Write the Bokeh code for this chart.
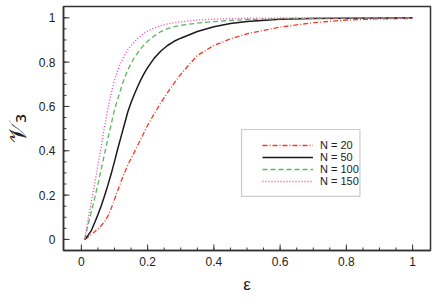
from bokeh.plotting import figure
from bokeh.models import (Range1d, FixedTicker, Legend, LegendItem, BoxAnnotation,
                          Arrow, ColumnDataSource)
from bokeh.embed import file_html
from bokeh.resources import INLINE

# ---- data ----
eps = [0.01, 0.02, 0.03, 0.04, 0.05, 0.06, 0.07, 0.08, 0.09, 0.10, 0.11, 0.12,
       0.13, 0.14, 0.15, 0.16, 0.17, 0.18, 0.19, 0.20, 0.22, 0.24, 0.26, 0.28,
       0.30, 0.35, 0.40, 0.45, 0.50, 0.60, 0.70, 0.80, 0.90, 1.00]

v_n20 = [0.0, 0.010, 0.022, 0.035, 0.048, 0.063, 0.080, 0.105, 0.140, 0.180,
         0.222, 0.262, 0.300, 0.335, 0.365, 0.394, 0.425, 0.455, 0.485, 0.515,
         0.567, 0.617, 0.662, 0.705, 0.745, 0.830, 0.875, 0.905, 0.928, 0.958,
         0.978, 0.990, 0.995, 0.997]
v_n50 = [0.0, 0.018, 0.040, 0.075, 0.112, 0.152, 0.197, 0.245, 0.296, 0.352,
         0.410, 0.465, 0.520, 0.575, 0.618, 0.655, 0.690, 0.722, 0.750, 0.775,
         0.818, 0.850, 0.875, 0.894, 0.908, 0.938, 0.960, 0.974, 0.983, 0.993,
         0.997, 0.998, 0.999, 1.0]
v_n100 = [0.0, 0.065, 0.125, 0.185, 0.250, 0.318, 0.387, 0.455, 0.520, 0.585,
          0.635, 0.683, 0.728, 0.764, 0.795, 0.820, 0.842, 0.862, 0.879, 0.894,
          0.918, 0.938, 0.951, 0.960, 0.966, 0.976, 0.983, 0.988, 0.992, 0.996,
          0.998, 0.999, 0.999, 0.999]
v_n150 = [0.0, 0.090, 0.170, 0.250, 0.335, 0.420, 0.510, 0.590, 0.660, 0.720,
          0.763, 0.800, 0.830, 0.855, 0.875, 0.892, 0.907, 0.920, 0.931, 0.940,
          0.955, 0.965, 0.972, 0.978, 0.982, 0.990, 0.994, 0.996, 0.998, 0.999,
          0.999, 0.999, 0.999, 0.999]

labels = ["N = 20", "N = 50", "N = 100", "N = 150"]
x_ticks = [0, 0.2, 0.4, 0.6, 0.8, 1]
x_tick_labels = ["0", "0.2", "0.4", "0.6", "0.8", "1"]
y_ticks = [0, 0.2, 0.4, 0.6, 0.8, 1]
y_tick_labels = ["0", "0.2", "0.4", "0.6", "0.8", "1"]
minor = [round(0.05 * i, 2) for i in range(21)]

FONT = "Liberation Sans"
W, H = 436, 300
BL, BR, BT, BB = 61, 6, 6, 50
X0, X1 = -0.054, 1.054
Y0, Y1 = -0.05, 1.051

p = figure(width=W, height=H, output_backend="svg", toolbar_location=None,
           x_range=Range1d(X0, X1), y_range=Range1d(Y0, Y1),
           min_border_left=BL, min_border_right=BR, min_border_top=BT,
           min_border_bottom=BB)
p.grid.visible = False
p.background_fill_alpha = 0
p.border_fill_alpha = 0
p.outline_line_color = "#333333"
p.outline_line_width = 1.5

r20 = p.line(eps, v_n20, line_color="#f23a28", line_width=1.3, line_dash="5 2 1 2")
r50 = p.line(eps, v_n50, line_color="#1a1a1a", line_width=1.5)
r100 = p.line(eps, v_n100, line_color="#5cb85c", line_width=1.3, line_dash="5 3")
r150 = p.line(eps, v_n150, line_color="#f03ca8", line_width=1.3, line_dash="1 2")

# inward tick marks drawn as head-less arrow annotations from the frame edges
dx = (X1 - X0) / (W - BL - BR)   # data units per pixel, x
dy = (Y1 - Y0) / (H - BT - BB)   # data units per pixel, y
TC = "#333333"


def ticks_source(xs0, ys0, xs1, ys1):
    return ColumnDataSource(dict(xs=xs0, ys=ys0, xe=xs1, ye=ys1))


tick_sets = [
    ticks_source(x_ticks, [Y0] * len(x_ticks), x_ticks, [Y0 + 6 * dy] * len(x_ticks)),
    ticks_source(minor, [Y0] * len(minor), minor, [Y0 + 3 * dy] * len(minor)),
    ticks_source([X0] * len(y_ticks), y_ticks, [X0 + 6 * dx] * len(y_ticks), y_ticks),
    ticks_source([X0] * len(minor), minor, [X0 + 3 * dx] * len(minor), minor),
]
for src in tick_sets:
    p.add_layout(Arrow(x_start="xs", y_start="ys", x_end="xe", y_end="ye",
                       start=None, end=None, source=src,
                       line_color=TC, line_width=1))

for ax, ticks, tl in ((p.xaxis[0], x_ticks, x_tick_labels), (p.yaxis[0], y_ticks, y_tick_labels)):
    ax.ticker = FixedTicker(ticks=ticks, minor_ticks=minor)
    ax.major_label_overrides = {t: s for t, s in zip(ticks, tl)}
    ax.major_tick_in = 0
    ax.major_tick_out = 0
    ax.minor_tick_in = 0
    ax.minor_tick_out = 0
    ax.axis_line_color = "#333333"
    ax.axis_line_width = 1.5
    ax.major_label_text_font = FONT
    ax.major_label_text_font_size = "12px"
    ax.major_label_text_color = "#222222"
    ax.axis_label_text_font_style = "normal"
    ax.axis_label_text_color = "#222222"

p.xaxis[0].major_label_standoff = 6
p.yaxis[0].major_label_standoff = 8
p.xaxis[0].axis_label = "ε"
p.xaxis[0].axis_label_text_font = FONT
p.xaxis[0].axis_label_text_font_size = "17px"
p.xaxis[0].axis_label_standoff = 6
p.yaxis[0].axis_label = "𝒱₃"
p.yaxis[0].axis_label_text_font = "DejaVu Sans"
p.yaxis[0].axis_label_text_font_size = "24px"
p.yaxis[0].axis_label_standoff = 4

# legend frame
p.add_layout(BoxAnnotation(left=0.4835, right=0.841, bottom=0.194, top=0.496,
                           fill_alpha=0, line_color="#555555", line_width=1.2))

legend = Legend(items=[LegendItem(label=labels[0], renderers=[r20]),
                       LegendItem(label=labels[1], renderers=[r50]),
                       LegendItem(label=labels[2], renderers=[r100]),
                       LegendItem(label=labels[3], renderers=[r150])],
                location=(194, 58), padding=5, spacing=-1, margin=0,
                glyph_width=51, glyph_height=12, label_height=12,
                label_standoff=7, label_text_font=FONT,
                label_text_font_size="11px", label_text_color="#222222",
                background_fill_alpha=0, border_line_alpha=0)
p.add_layout(legend, "center")

open("out.html", "w").write(file_html(p, INLINE))
